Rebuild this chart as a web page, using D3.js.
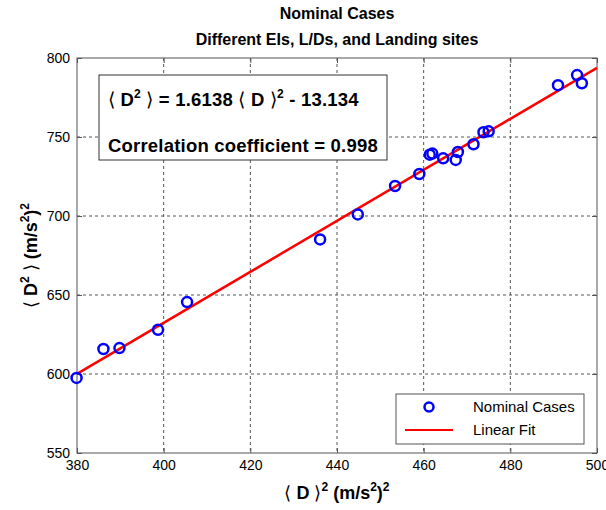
<!DOCTYPE html>
<html>
<head>
<meta charset="utf-8">
<script src="https://cdn.jsdelivr.net/npm/d3@7"></script>
<style>
  body { margin: 0; background: #fff; }
  text { font-family: "Liberation Sans", Arial, sans-serif; }
</style>
</head>
<body>
<script>
// mean-squared values
var xVals = [379.9, 386.1, 389.8, 398.7, 405.4, 436.1, 444.8, 453.4, 459.0, 461.4,
             462.0, 464.5, 467.4, 467.9, 471.5, 473.8, 475.0, 491.0, 495.4, 496.5];
var yVals = [597.5, 615.8, 616.4, 628.0, 645.5, 685.2, 701.0, 719.0, 726.6, 738.8,
             739.5, 736.5, 735.5, 740.5, 745.4, 753.0, 753.6, 782.8, 789.2, 784.0];

var slope = 1.6138, intercept = -13.134;
var xTicks = [380, 400, 420, 440, 460, 480, 500];
var yTicks = [550, 600, 650, 700, 750, 800];

var W = 606, H = 510;
var pl = 77, pr = 597, pt = 58, pb = 453;

var svg = d3.select("body").append("svg")
	.attr("width", W)
	.attr("height", H);

var x = d3.scaleLinear().domain([380, 500]).range([pl, pr]);
var y = d3.scaleLinear().domain([550, 800]).range([pb, pt]);

// grid
svg.append("g").selectAll("line").data(xTicks.slice(1, -1)).enter().append("line")
	.attr("x1", d => x(d)).attr("x2", d => x(d))
	.attr("y1", pt).attr("y2", pb)
	.attr("stroke", "#555").attr("stroke-width", 1).attr("stroke-dasharray", "3,3");
svg.append("g").selectAll("line").data(yTicks.slice(1, -1)).enter().append("line")
	.attr("y1", d => y(d)).attr("y2", d => y(d))
	.attr("x1", pl).attr("x2", pr)
	.attr("stroke", "#555").attr("stroke-width", 1).attr("stroke-dasharray", "3,3");

// axes, ticks pointing inward like matlab
function styleAxis(g) {
	g.select(".domain").remove();
	g.selectAll(".tick line").attr("stroke", "#555");
	g.selectAll(".tick text").attr("fill", "#000")
		.style("font-family", "'Liberation Sans', Arial, sans-serif")
		.style("font-size", "14px");
}
svg.append("g").attr("transform", "translate(0," + pb + ")")
	.call(d3.axisBottom(x).tickValues(xTicks).tickSizeInner(-5).tickSizeOuter(0).tickPadding(7))
	.call(styleAxis);
svg.append("g").attr("transform", "translate(0," + pt + ")")
	.call(d3.axisTop(x).tickValues(xTicks).tickSizeInner(-5).tickSizeOuter(0).tickFormat(""))
	.call(styleAxis);
svg.append("g").attr("transform", "translate(" + pl + ",0)")
	.call(d3.axisLeft(y).tickValues(yTicks).tickSizeInner(-5).tickSizeOuter(0).tickPadding(7))
	.call(styleAxis);
svg.append("g").attr("transform", "translate(" + pr + ",0)")
	.call(d3.axisRight(y).tickValues(yTicks).tickSizeInner(-5).tickSizeOuter(0).tickFormat(""))
	.call(styleAxis);

svg.append("rect")
	.attr("x", pl).attr("y", pt)
	.attr("width", pr - pl).attr("height", pb - pt)
	.attr("fill", "none").attr("stroke", "#555").attr("stroke-width", 1);

// linear fit
var line = d3.line().x(d => x(d)).y(d => y(slope * d + intercept));
svg.append("path")
	.datum([380, 500])
	.attr("d", line)
	.attr("fill", "none")
	.attr("stroke", "#ff0000")
	.attr("stroke-width", 2.5);

// data points
svg.append("g").selectAll("circle").data(xVals).enter().append("circle")
	.attr("cx", d => x(d))
	.attr("cy", (d, i) => y(yVals[i]))
	.attr("r", 5)
	.attr("fill", "none")
	.attr("stroke", "#0000ff")
	.attr("stroke-width", 2.5);

// titles
var title = svg.append("text")
	.attr("text-anchor", "middle")
	.style("font-size", "16px").style("font-weight", "bold");
title.append("tspan").attr("x", (pl + pr) / 2).attr("y", 19).text("Nominal Cases");
title.append("tspan").attr("x", (pl + pr) / 2).attr("y", 45).text("Different EIs, L/Ds, and Landing sites");

// equation box
svg.append("rect")
	.attr("x", 99).attr("y", 75).attr("width", 288).attr("height", 85)
	.attr("fill", "#fff").attr("stroke", "#333").attr("stroke-width", 1);

var eq = svg.append("text").attr("x", 108).attr("y", 106)
	.style("font-size", "18.5px").style("font-weight", "bold").style("letter-spacing", "0.2px");
eq.append("tspan").style("font-weight", "normal").text("\u27E8 ");
eq.append("tspan").text("D");
eq.append("tspan").attr("dy", -8).style("font-size", "12px").text("2");
eq.append("tspan").attr("dy", 8).style("font-weight", "normal").text(" \u27E9");
eq.append("tspan").text(" = 1.6138 ");
eq.append("tspan").style("font-weight", "normal").text("\u27E8 ");
eq.append("tspan").text("D ");
eq.append("tspan").style("font-weight", "normal").text("\u27E9");
eq.append("tspan").attr("dy", -8).style("font-size", "12px").text("2");
eq.append("tspan").attr("dy", 8).text(" - 13.134");

svg.append("text").attr("x", 108).attr("y", 152)
	.style("font-size", "18.5px").style("font-weight", "bold").style("letter-spacing", "0.2px")
	.text("Correlation coefficient = 0.998");

// legend
svg.append("rect")
	.attr("x", 396).attr("y", 394).attr("width", 188).attr("height", 50)
	.attr("fill", "#fff").attr("stroke", "#555").attr("stroke-width", 1);
svg.append("circle")
	.attr("cx", 429).attr("cy", 407).attr("r", 4.5)
	.attr("fill", "none").attr("stroke", "#0000ff").attr("stroke-width", 2.5);
svg.append("line")
	.attr("x1", 405).attr("x2", 453).attr("y1", 430).attr("y2", 430)
	.attr("stroke", "#ff0000").attr("stroke-width", 1.8);
svg.append("text").attr("x", 473).attr("y", 412).style("font-size", "15px").text("Nominal Cases");
svg.append("text").attr("x", 473).attr("y", 435).style("font-size", "15px").text("Linear Fit");

// axis labels
var xl = svg.append("text")
	.attr("x", (pl + pr) / 2).attr("y", 499)
	.attr("text-anchor", "middle")
	.style("font-size", "18px").style("font-weight", "bold");
xl.append("tspan").style("font-weight", "normal").text("\u27E8 ");
xl.append("tspan").text("D ");
xl.append("tspan").style("font-weight", "normal").text("\u27E9");
xl.append("tspan").attr("dy", -8).style("font-size", "12px").text("2");
xl.append("tspan").attr("dy", 8).text(" (m/s");
xl.append("tspan").attr("dy", -8).style("font-size", "12px").text("2");
xl.append("tspan").attr("dy", 8).text(")");
xl.append("tspan").attr("dy", -8).style("font-size", "12px").text("2");

var yl = svg.append("text")
	.attr("transform", "translate(37," + (pt + pb) / 2 + ") rotate(-90)")
	.attr("text-anchor", "middle")
	.style("font-size", "18px").style("font-weight", "bold");
yl.append("tspan").style("font-weight", "normal").text("\u27E8 ");
yl.append("tspan").text("D");
yl.append("tspan").attr("dy", -8).style("font-size", "12px").text("2");
yl.append("tspan").attr("dy", 8).style("font-weight", "normal").text(" \u27E9");
yl.append("tspan").text(" (m/s");
yl.append("tspan").attr("dy", -8).style("font-size", "12px").text("2");
yl.append("tspan").attr("dy", 8).text(")");
yl.append("tspan").attr("dy", -8).style("font-size", "12px").text("2");
</script>
</body>
</html>
